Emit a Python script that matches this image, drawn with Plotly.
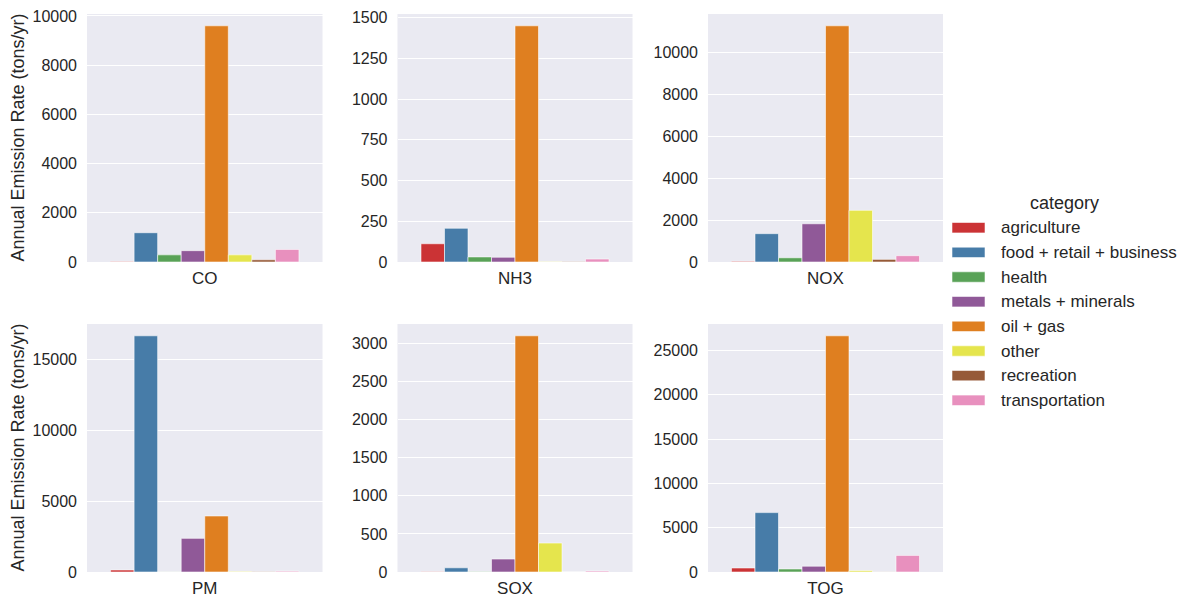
import plotly.graph_objects as go

# Emission categories and their bar colours (seaborn Set1, desaturated)
categories = ["agriculture", "food + retail + business", "health", "metals + minerals",
              "oil + gas", "other", "recreation", "transportation"]
colors = ["#cb3335", "#477ca8", "#59a257", "#905998",
          "#df7f20", "#e5e54d", "#965a38", "#e890be"]

pollutants = ["CO", "NH3", "NOX", "PM", "SOX", "TOG"]

# Annual emission rate (tons/yr) per category, one list per pollutant
co_values = [20, 1190, 290, 460, 9600, 290, 90, 510]
nh3_values = [112, 207, 31, 29, 1450, 1, 1, 18]
nox_values = [30, 1350, 200, 1820, 11250, 2460, 125, 300]
pm_values = [140, 16700, 5, 2380, 3960, 40, 20, 60]
sox_values = [3, 55, 2, 170, 3100, 380, 1, 12]
tog_values = [450, 6700, 340, 650, 26650, 150, 10, 1870]

values = [co_values, nh3_values, nox_values, pm_values, sox_values, tog_values]
tick_steps = [2000, 250, 2000, 5000, 500, 5000]

W, H = 1185, 599
FONT = "Liberation Sans, Arial, sans-serif"
TEXT = "#262626"

# panel boxes in pixels: (left, right) per column, (top, bottom) per row
cols_px = [(87, 322.5), (397.5, 632.5), (708, 943)]
rows_px = [(14, 262), (324, 572)]

fig = go.Figure()
layout = dict(
    width=W, height=H, template="none",
    margin=dict(l=0, r=0, t=0, b=0),
    paper_bgcolor="white", plot_bgcolor="#eaeaf2",
    barmode="group", bargap=0.2, bargroupgap=0.0,
    showlegend=False,
    font=dict(family=FONT, color=TEXT, size=16),
)

for i, (pol, vals) in enumerate(zip(pollutants, values)):
    r, c = divmod(i, 3)
    n = i + 1
    xa = "x" if n == 1 else f"x{n}"
    ya = "y" if n == 1 else f"y{n}"
    for j, cat in enumerate(categories):
        fig.add_trace(go.Bar(
            x=[pol], y=[vals[j]], name=cat,
            marker=dict(color=colors[j], line=dict(color="rgba(255,255,255,0.8)", width=0.7)),
            xaxis=xa, yaxis=ya, offsetgroup=str(j),
            hovertemplate=f"{cat}<br>{pol}: %{{y}}<extra></extra>",
        ))
    x0, x1 = cols_px[c]
    t, b = rows_px[r]
    ymax = max(vals) * 1.05
    layout["xaxis" if n == 1 else f"xaxis{n}"] = dict(
        domain=[x0 / W, x1 / W], anchor=ya, type="category",
        range=[-0.5, 0.5], showgrid=False, zeroline=False, showline=False,
        ticks="", tickfont=dict(size=17, color=TEXT, family=FONT),
        ticklabelstandoff=4, automargin=False, fixedrange=True,
    )
    layout["yaxis" if n == 1 else f"yaxis{n}"] = dict(
        domain=[1 - b / H, 1 - t / H], anchor=xa,
        range=[0, ymax], dtick=tick_steps[i], tick0=0,
        showgrid=True, gridcolor="white", gridwidth=1.2,
        zeroline=False, showline=False, ticks="",
        tickfont=dict(size=16, color=TEXT, family=FONT),
        ticklabelstandoff=9, automargin=False, fixedrange=True,
        tickformat="d",
    )

fig.update_layout(**layout)

# y-axis titles on the left column
for (t, b) in rows_px:
    fig.add_annotation(
        text="Annual Emission Rate (tons/yr)", textangle=-90,
        x=17.5 / W, y=1 - ((t + b) / 2) / H, xref="paper", yref="paper",
        showarrow=False, xanchor="center", yanchor="middle",
        font=dict(size=18, color=TEXT, family=FONT),
    )

# legend drawn beside the grid
fig.add_annotation(
    text="category", x=1064 / W, y=1 - 203.5 / H, xref="paper", yref="paper",
    showarrow=False, xanchor="center", yanchor="middle",
    font=dict(size=18, color=TEXT, family=FONT),
)
for j, cat in enumerate(categories):
    yc = 227.7 + j * 24.66
    fig.add_shape(
        type="rect", xref="paper", yref="paper",
        x0=952 / W, x1=985 / W, y0=1 - (yc + 5.2) / H, y1=1 - (yc - 5.2) / H,
        fillcolor=colors[j], line=dict(color="rgba(255,255,255,0.8)", width=0.7),
    )
    fig.add_annotation(
        text=cat, x=999 / W, y=1 - yc / H, xref="paper", yref="paper",
        showarrow=False, xanchor="left", yanchor="middle",
        font=dict(size=17, color=TEXT, family=FONT),
    )

fig.write_html("out.html")
